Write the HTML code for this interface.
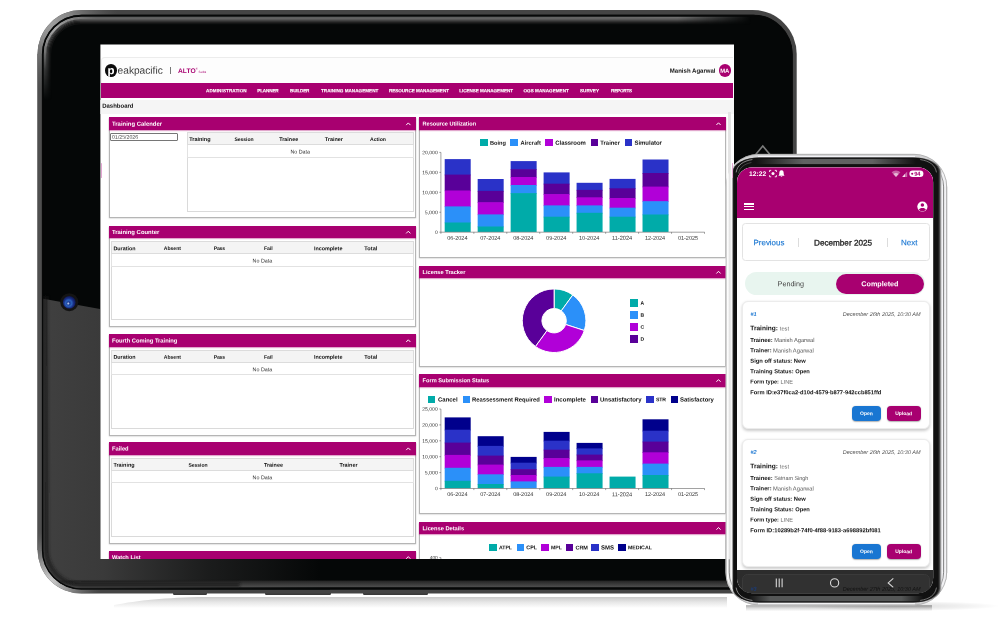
<!DOCTYPE html>
<html><head><meta charset="utf-8"><title>ALTO Suite</title>
<style>
html,body{margin:0;padding:0;background:#fff;}
body{width:1005px;height:621px;overflow:hidden;position:relative;font-family:"Liberation Sans",sans-serif;}
.t{position:absolute;left:0;top:0;white-space:nowrap;display:block;transform-origin:0 0;}
.r{position:absolute;box-sizing:border-box;}
svg{position:absolute;left:0;top:0;overflow:visible;}
svg text{font-family:"Liberation Sans",sans-serif;}
</style></head><body>
<svg width="1005" height="621" viewBox="0 0 1005 621">
<defs>
<linearGradient id="tglare" gradientUnits="userSpaceOnUse" x1="42" y1="0" x2="320" y2="0">
<stop offset="0" stop-color="#404040"/><stop offset="0.22" stop-color="#3a3a3a"/><stop offset="0.6" stop-color="#1b1c1c"/><stop offset="1" stop-color="#050707"/></linearGradient>
<radialGradient id="trim" gradientUnits="userSpaceOnUse" cx="50" cy="23" r="68">
<stop offset="0" stop-color="#a0a0a0"/><stop offset="0.3" stop-color="#8a8a8a" stop-opacity="0.95"/><stop offset="0.7" stop-color="#707070" stop-opacity="0.45"/><stop offset="1" stop-color="#606060" stop-opacity="0"/></radialGradient>
<radialGradient id="trimb" gradientUnits="userSpaceOnUse" cx="50" cy="581" r="52"><stop offset="0" stop-color="#cfcfcf"/><stop offset="0.35" stop-color="#a8a8a8" stop-opacity="0.85"/><stop offset="0.75" stop-color="#808080" stop-opacity="0.35"/><stop offset="1" stop-color="#606060" stop-opacity="0"/></radialGradient>
<radialGradient id="tglow" gradientUnits="userSpaceOnUse" cx="66" cy="36" r="135">
<stop offset="0" stop-color="#909090" stop-opacity="0.95"/><stop offset="0.35" stop-color="#7a7a7a" stop-opacity="0.7"/><stop offset="0.7" stop-color="#666" stop-opacity="0.3"/><stop offset="1" stop-color="#555" stop-opacity="0"/></radialGradient>
<linearGradient id="tglow2" gradientUnits="userSpaceOnUse" x1="120" y1="0" x2="745" y2="0"><stop offset="0" stop-color="#777" stop-opacity="0.0"/><stop offset="0.12" stop-color="#707070" stop-opacity="0.8"/><stop offset="0.8" stop-color="#606060" stop-opacity="0.7"/><stop offset="1" stop-color="#555" stop-opacity="0"/></linearGradient>
<filter id="blur2" filterUnits="userSpaceOnUse" x="100" y="8" width="680" height="24"><feGaussianBlur stdDeviation="0.9"/></filter>
<linearGradient id="mg1" gradientUnits="userSpaceOnUse" x1="0" y1="0" x2="770" y2="0"><stop offset="0" stop-color="#fff"/><stop offset="0.88" stop-color="#fff"/><stop offset="0.975" stop-color="#000"/></linearGradient>
<linearGradient id="mg2" gradientUnits="userSpaceOnUse" x1="0" y1="0" x2="0" y2="200"><stop offset="0" stop-color="#fff"/><stop offset="0.2" stop-color="#fff"/><stop offset="0.5" stop-color="#000"/></linearGradient>
<mask id="mk1" maskUnits="userSpaceOnUse" x="0" y="0" width="1005" height="621"><rect x="0" y="0" width="1005" height="621" fill="url(#mg1)"/></mask>
<mask id="mk2" maskUnits="userSpaceOnUse" x="0" y="0" width="1005" height="621"><rect x="0" y="0" width="1005" height="621" fill="url(#mg2)"/></mask>
<radialGradient id="cglow" gradientUnits="userSpaceOnUse" cx="56" cy="29" r="42"><stop offset="0" stop-color="#b0b0b0" stop-opacity="0.9"/><stop offset="0.5" stop-color="#999" stop-opacity="0.55"/><stop offset="1" stop-color="#888" stop-opacity="0"/></radialGradient>
<filter id="blur3" filterUnits="userSpaceOnUse" x="30" y="5" width="100" height="90"><feGaussianBlur stdDeviation="0.7"/></filter>
<filter id="blur4" filterUnits="userSpaceOnUse" x="30" y="280" width="260" height="330"><feGaussianBlur stdDeviation="1.6"/></filter>
<filter id="blur1" x="-10%" y="-10%" width="120%" height="120%"><feGaussianBlur stdDeviation="1.3"/></filter>
<linearGradient id="tbot" gradientUnits="userSpaceOnUse" x1="0" y1="580" x2="0" y2="587.2">
<stop offset="0" stop-color="#1c1c1c" stop-opacity="0"/><stop offset="0.15" stop-color="#262626" stop-opacity="1"/><stop offset="1" stop-color="#4e4e4e"/></linearGradient>
<radialGradient id="cam" cx="0.45" cy="0.58" r="0.62"><stop offset="0" stop-color="#7f9fd8"/><stop offset="0.14" stop-color="#1c3690"/><stop offset="0.4" stop-color="#2a62ba"/><stop offset="0.62" stop-color="#1a2f88"/><stop offset="1" stop-color="#090f3c"/></radialGradient>
<radialGradient id="shadow" cx="0.5" cy="0.5" r="0.5"><stop offset="0" stop-color="#000" stop-opacity="0.28"/><stop offset="0.7" stop-color="#000" stop-opacity="0.10"/><stop offset="1" stop-color="#000" stop-opacity="0"/></radialGradient>
<linearGradient id="ptop" gradientUnits="userSpaceOnUse" x1="733" y1="0" x2="940" y2="0">
<stop offset="0" stop-color="#111"/><stop offset="0.12" stop-color="#1a1a1a"/><stop offset="0.5" stop-color="#7a7a7a"/><stop offset="0.88" stop-color="#1a1a1a"/><stop offset="1" stop-color="#111"/></linearGradient>
<linearGradient id="tshadow" gradientUnits="userSpaceOnUse" x1="0" y1="597" x2="0" y2="608">
<stop offset="0" stop-color="#c9c9c9"/><stop offset="0.45" stop-color="#e6e6e6"/><stop offset="1" stop-color="#fff"/></linearGradient>
<linearGradient id="pshadow" gradientUnits="userSpaceOnUse" x1="0" y1="605.2" x2="0" y2="611.2">
<stop offset="0" stop-color="#a8a8a8"/><stop offset="0.5" stop-color="#dcdcdc"/><stop offset="1" stop-color="#fff"/></linearGradient>
<clipPath id="tclip"><rect x="42" y="14.8" width="750.6" height="574.6" rx="39.6" ry="39.6"/></clipPath>
</defs>
<!-- shadows -->
<path d="M114 605 C138 600.5 165 597.4 205 597 L727 597 L727 608 L114 608 Z" fill="url(#tshadow)"/>
<rect x="746" y="605.2" width="186" height="6" fill="url(#pshadow)"/>
<ellipse cx="900" cy="606" rx="100" ry="5" fill="url(#shadow)" opacity="0.5"/>
<!-- tablet feet -->
<rect x="173" y="592" width="34" height="3" rx="1.2" fill="#3a3a3a"/>
<rect x="265" y="592" width="66" height="3" rx="1.2" fill="#3a3a3a"/>
<rect x="363" y="592" width="65" height="3" rx="1.2" fill="#3a3a3a"/>
<!-- tablet -->
<rect x="37.5" y="10" width="759.2" height="583.6" rx="44" ry="44" fill="#444"/>
<rect x="37.5" y="54" width="4.6" height="496" fill="#4f4f4f"/>
<rect x="37.5" y="10" width="200" height="300" rx="44" ry="44" fill="url(#trim)"/>
<rect x="37.5" y="393.6" width="200" height="200" rx="44" ry="44" fill="url(#trimb)"/>
<rect x="42" y="14.8" width="750.6" height="574.6" rx="39.6" ry="39.6" fill="#050707"/>
<g mask="url(#mk1)"><g mask="url(#mk2)">
<path d="M44.30 200 L44.30 54.00 A36.70 36.70 0 0 1 81.50 17.30 L760 17.30" fill="none" stroke="#787878" stroke-width="1.15"/>
<path d="M45.35 200 L45.35 54.00 A35.65 35.65 0 0 1 81.50 18.35 L760 18.35" fill="none" stroke="#676767" stroke-width="1.15"/>
<path d="M46.40 200 L46.40 54.00 A34.60 34.60 0 0 1 81.50 19.40 L760 19.40" fill="none" stroke="#555555" stroke-width="1.15"/>
<path d="M47.45 200 L47.45 54.00 A33.55 33.55 0 0 1 81.50 20.45 L760 20.45" fill="none" stroke="#434343" stroke-width="1.15"/>
<path d="M48.50 200 L48.50 54.00 A32.50 32.50 0 0 1 81.50 21.50 L760 21.50" fill="none" stroke="#313131" stroke-width="1.15"/>
<path d="M49.55 200 L49.55 54.00 A31.45 31.45 0 0 1 81.50 22.55 L760 22.55" fill="none" stroke="#202020" stroke-width="1.15"/>
<path d="M50.60 200 L50.60 54.00 A30.40 30.40 0 0 1 81.50 23.60 L760 23.60" fill="none" stroke="#131414" stroke-width="1.15"/>
</g></g>
<path d="M45 76 L45 54 A36 36 0 0 1 81 18 L104 18" fill="none" stroke="url(#cglow)" stroke-width="2.2" filter="url(#blur3)"/>
<g clip-path="url(#tclip)">
<path d="M43.3 298.8 L100 309 L100 559 L330 559 L330 590 L43.3 590 Z" fill="url(#tglare)"/>
<rect x="42" y="580" width="751" height="7.2" fill="url(#tbot)"/>
<path d="M45.5 296 L46.5 549.8 A35 35 0 0 0 81.5 584.8 L240 584.8" fill="none" stroke="#161616" stroke-width="4" opacity="0.75" filter="url(#blur4)"/>
</g>
<rect x="42.5" y="15.3" width="749.6" height="573.6" rx="39.1" ry="39.1" fill="none" stroke="#070808" stroke-width="1.3"/>
<!-- camera -->
<circle cx="69.3" cy="302.2" r="9" fill="#141414"/>
<circle cx="69.3" cy="302.2" r="6.3" fill="url(#cam)"/>
<circle cx="68.2" cy="303.6" r="1.1" fill="#cfe0f8" opacity="0.7"/>
<!-- home icon -->
<path d="M754 156.5 L762.8 146 L771.6 156.5" fill="none" stroke="#7b7b7b" stroke-width="1.6"/>
</svg>
<div style="position:absolute;left:0;top:0;width:1005px;height:621px;clip-path:inset(44.4px 270.5px 61.9px 100.4px);"><div class="r" style="left:100.40px;top:44.40px;width:634.10px;height:514.70px;background:#fff;"></div><div class="r" style="left:101.00px;top:57.20px;width:631.50px;height:26.40px;background:#fdfdfd;border-radius:4px 0 0 0;border-top:1px solid #ececec;border-left:0.6px solid #f0f0f0;"></div><div class="r" style="left:104.70px;top:64.00px;width:12.00px;height:12.70px;background:#0b0b0b;border-radius:50%;"></div><span class="t" style="transform:translate(107.60px,64.16px) rotate(0.03deg);font-size:11.5px;line-height:12px;color:#fff;font-weight:700;">p</span><span class="t" style="transform:translate(117.60px,64.80px) rotate(0.03deg);font-size:10.164px;line-height:11px;color:#3a3a3a;letter-spacing:0.000px;">eakpacific</span><div class="r" style="left:169.70px;top:67.20px;width:0.80px;height:7.00px;background:#777;"></div><span class="t" style="transform:translate(178.00px,67.10px) rotate(0.03deg);font-size:6.693px;line-height:7px;color:#a80070;letter-spacing:0.000px;font-weight:700;">ALTO</span><span class="t" style="transform:translate(195.80px,67.49px) rotate(0.03deg);font-size:2.6px;line-height:3px;color:#a80070;">®</span><span class="t" style="transform:translate(198.60px,69.89px) rotate(0.03deg);font-size:3.172px;line-height:4px;color:#a80070;letter-spacing:0.134px;">Suite</span><span class="t" style="transform:translate(669.80px,67.68px) rotate(0.03deg);font-size:6.046px;line-height:6px;color:#111;letter-spacing:-0.000px;font-weight:700;">Manish Agarwal</span><div class="r" style="left:718.50px;top:64.30px;width:12.50px;height:12.50px;background:#a80070;border-radius:50%;"></div><span class="t" style="transform:translate(720.29px,67.73px) rotate(0.03deg);font-size:5.9px;line-height:6px;color:#fff;letter-spacing:-0.250px;font-weight:700;">MA</span><div class="r" style="left:101.00px;top:83.40px;width:631.50px;height:14.50px;background:#a80070;"></div><span class="t" style="transform:translate(206.00px,88.18px) rotate(0.03deg);font-size:4.6px;line-height:5px;color:#fff;letter-spacing:0.091px;font-weight:700;-webkit-text-stroke:0.12px #fff;">ADMINISTRATION</span><span class="t" style="transform:translate(257.20px,88.18px) rotate(0.03deg);font-size:4.6px;line-height:5px;color:#fff;letter-spacing:-0.119px;font-weight:700;-webkit-text-stroke:0.12px #fff;">PLANNER</span><span class="t" style="transform:translate(290.00px,88.18px) rotate(0.03deg);font-size:4.6px;line-height:5px;color:#fff;letter-spacing:-0.178px;font-weight:700;-webkit-text-stroke:0.12px #fff;">BUILDER</span><span class="t" style="transform:translate(321.00px,88.18px) rotate(0.03deg);font-size:4.6px;line-height:5px;color:#fff;letter-spacing:0.022px;font-weight:700;-webkit-text-stroke:0.12px #fff;">TRAINING MANAGEMENT</span><span class="t" style="transform:translate(389.00px,88.18px) rotate(0.03deg);font-size:4.6px;line-height:5px;color:#fff;letter-spacing:-0.043px;font-weight:700;-webkit-text-stroke:0.12px #fff;">RESOURCE MANAGEMENT</span><span class="t" style="transform:translate(459.30px,88.18px) rotate(0.03deg);font-size:4.6px;line-height:5px;color:#fff;letter-spacing:-0.055px;font-weight:700;-webkit-text-stroke:0.12px #fff;">LICENSE MANAGEMENT</span><span class="t" style="transform:translate(523.40px,88.18px) rotate(0.03deg);font-size:4.6px;line-height:5px;color:#fff;letter-spacing:0.044px;font-weight:700;-webkit-text-stroke:0.12px #fff;">OGS MANAGEMENT</span><span class="t" style="transform:translate(580.00px,88.18px) rotate(0.03deg);font-size:4.6px;line-height:5px;color:#fff;letter-spacing:0.028px;font-weight:700;-webkit-text-stroke:0.12px #fff;">SURVEY</span><span class="t" style="transform:translate(611.00px,88.18px) rotate(0.03deg);font-size:4.6px;line-height:5px;color:#fff;letter-spacing:-0.177px;font-weight:700;-webkit-text-stroke:0.12px #fff;">REPORTS</span><div class="r" style="left:100.40px;top:99.80px;width:634.10px;height:14.30px;background:#f5f5f5;"></div><span class="t" style="transform:translate(102.20px,102.66px) rotate(0.03deg);font-size:5.992px;line-height:6px;color:#111;letter-spacing:0.000px;font-weight:700;">Dashboard</span><div class="r" style="left:108.60px;top:117.30px;width:307.70px;height:101.10px;background:#fff;border:0.8px solid #b5b5b5;box-shadow:0 0.5px 1.5px rgba(0,0,0,.25);"></div><div class="r" style="left:108.60px;top:117.30px;width:307.70px;height:12.60px;background:#a80070;box-shadow:0 1px 1px rgba(169,0,109,.35);"></div><span class="t" style="transform:translate(112.00px,120.64px) rotate(0.03deg);font-size:5.923px;line-height:6px;color:#fff;letter-spacing:0.010px;font-weight:700;">Training Calender</span><svg width="1005" height="621"><path d="M406.20 125.10 L408.30 122.90 L410.40 125.10" fill="none" stroke="#fff" stroke-width="0.95"/></svg><div class="r" style="left:110.40px;top:133.30px;width:67.40px;height:7.40px;background:#fff;border:0.7px solid #767676;border-radius:1px;"></div><span class="t" style="transform:translate(112.10px,133.79px) rotate(0.03deg);font-size:5.215px;line-height:6px;color:#444;letter-spacing:-0.000px;">01/25/2026</span><div class="r" style="left:186.60px;top:132.30px;width:227.20px;height:79.90px;background:#fff;border:0.7px solid #dadada;"></div><div class="r" style="left:186.60px;top:132.30px;width:227.20px;height:13.00px;background:#f4f4f4;border:0.7px solid #dcdcdc;"></div><div class="r" style="left:186.60px;top:145.30px;width:227.20px;height:12.40px;background:#fff;border:0.7px solid #e2e2e2;border-top:none;"></div><span class="t" style="transform:translate(189.20px,136.09px) rotate(0.03deg);font-size:5.502px;line-height:6px;color:#111;letter-spacing:0.000px;font-weight:700;">Training</span><span class="t" style="transform:translate(234.40px,135.95px) rotate(0.03deg);font-size:5.088px;line-height:6px;color:#111;letter-spacing:-0.045px;font-weight:700;">Session</span><span class="t" style="transform:translate(279.30px,136.06px) rotate(0.03deg);font-size:5.397px;line-height:6px;color:#111;letter-spacing:-0.000px;font-weight:700;">Trainee</span><span class="t" style="transform:translate(324.80px,136.08px) rotate(0.03deg);font-size:5.457px;line-height:6px;color:#111;letter-spacing:0.000px;font-weight:700;">Trainer</span><span class="t" style="transform:translate(370.00px,135.97px) rotate(0.03deg);font-size:5.143px;line-height:6px;color:#111;letter-spacing:0.000px;font-weight:700;">Action</span><span class="t" style="transform:translate(290.40px,148.44px) rotate(0.03deg);font-size:5.343px;line-height:6px;color:#333;letter-spacing:-0.000px;">No Data</span><div class="r" style="left:108.60px;top:225.60px;width:307.70px;height:101.50px;background:#fff;border:0.8px solid #b5b5b5;box-shadow:0 0.5px 1.5px rgba(0,0,0,.25);"></div><div class="r" style="left:108.60px;top:225.60px;width:307.70px;height:12.60px;background:#a80070;box-shadow:0 1px 1px rgba(169,0,109,.35);"></div><span class="t" style="transform:translate(112.00px,228.94px) rotate(0.03deg);font-size:5.923px;line-height:6px;color:#fff;letter-spacing:0.001px;font-weight:700;">Training Counter</span><svg width="1005" height="621"><path d="M406.20 233.40 L408.30 231.20 L410.40 233.40" fill="none" stroke="#fff" stroke-width="0.95"/></svg><div class="r" style="left:111.00px;top:241.40px;width:302.80px;height:78.80px;background:#fff;border:0.7px solid #dadada;"></div><div class="r" style="left:111.00px;top:241.40px;width:302.80px;height:13.00px;background:#f4f4f4;border:0.7px solid #dcdcdc;"></div><div class="r" style="left:111.00px;top:254.40px;width:302.80px;height:12.40px;background:#fff;border:0.7px solid #e2e2e2;border-top:none;"></div><span class="t" style="transform:translate(113.40px,245.16px) rotate(0.03deg);font-size:5.4px;line-height:6px;color:#111;letter-spacing:0.000px;font-weight:700;">Duration</span><span class="t" style="transform:translate(163.70px,245.06px) rotate(0.03deg);font-size:5.104px;line-height:6px;color:#111;letter-spacing:0.000px;font-weight:700;">Absent</span><span class="t" style="transform:translate(213.70px,245.05px) rotate(0.03deg);font-size:5.088px;line-height:6px;color:#111;letter-spacing:-0.146px;font-weight:700;">Pass</span><span class="t" style="transform:translate(264.00px,245.05px) rotate(0.03deg);font-size:5.088px;line-height:6px;color:#111;letter-spacing:-0.041px;font-weight:700;">Fail</span><span class="t" style="transform:translate(314.00px,245.16px) rotate(0.03deg);font-size:5.399px;line-height:6px;color:#111;letter-spacing:-0.000px;font-weight:700;">Incomplete</span><span class="t" style="transform:translate(364.30px,245.21px) rotate(0.03deg);font-size:5.565px;line-height:6px;color:#111;letter-spacing:0.044px;font-weight:700;">Total</span><span class="t" style="transform:translate(252.60px,257.54px) rotate(0.03deg);font-size:5.343px;line-height:6px;color:#333;letter-spacing:-0.000px;">No Data</span><div class="r" style="left:108.60px;top:334.20px;width:307.70px;height:101.50px;background:#fff;border:0.8px solid #b5b5b5;box-shadow:0 0.5px 1.5px rgba(0,0,0,.25);"></div><div class="r" style="left:108.60px;top:334.20px;width:307.70px;height:12.60px;background:#a80070;box-shadow:0 1px 1px rgba(169,0,109,.35);"></div><span class="t" style="transform:translate(112.00px,337.49px) rotate(0.03deg);font-size:5.789px;line-height:6px;color:#fff;letter-spacing:-0.000px;font-weight:700;">Fourth Coming Training</span><svg width="1005" height="621"><path d="M406.20 342.00 L408.30 339.80 L410.40 342.00" fill="none" stroke="#fff" stroke-width="0.95"/></svg><div class="r" style="left:111.00px;top:350.00px;width:302.80px;height:78.80px;background:#fff;border:0.7px solid #dadada;"></div><div class="r" style="left:111.00px;top:350.00px;width:302.80px;height:13.00px;background:#f4f4f4;border:0.7px solid #dcdcdc;"></div><div class="r" style="left:111.00px;top:363.00px;width:302.80px;height:12.40px;background:#fff;border:0.7px solid #e2e2e2;border-top:none;"></div><span class="t" style="transform:translate(113.40px,353.76px) rotate(0.03deg);font-size:5.4px;line-height:6px;color:#111;letter-spacing:0.000px;font-weight:700;">Duration</span><span class="t" style="transform:translate(163.70px,353.66px) rotate(0.03deg);font-size:5.104px;line-height:6px;color:#111;letter-spacing:0.000px;font-weight:700;">Absent</span><span class="t" style="transform:translate(213.70px,353.65px) rotate(0.03deg);font-size:5.088px;line-height:6px;color:#111;letter-spacing:-0.146px;font-weight:700;">Pass</span><span class="t" style="transform:translate(264.00px,353.65px) rotate(0.03deg);font-size:5.088px;line-height:6px;color:#111;letter-spacing:-0.041px;font-weight:700;">Fail</span><span class="t" style="transform:translate(314.00px,353.76px) rotate(0.03deg);font-size:5.399px;line-height:6px;color:#111;letter-spacing:-0.000px;font-weight:700;">Incomplete</span><span class="t" style="transform:translate(364.30px,353.81px) rotate(0.03deg);font-size:5.565px;line-height:6px;color:#111;letter-spacing:0.044px;font-weight:700;">Total</span><span class="t" style="transform:translate(252.60px,366.14px) rotate(0.03deg);font-size:5.343px;line-height:6px;color:#333;letter-spacing:-0.000px;">No Data</span><div class="r" style="left:108.60px;top:442.30px;width:307.70px;height:101.70px;background:#fff;border:0.8px solid #b5b5b5;box-shadow:0 0.5px 1.5px rgba(0,0,0,.25);"></div><div class="r" style="left:108.60px;top:442.30px;width:307.70px;height:12.60px;background:#a80070;box-shadow:0 1px 1px rgba(169,0,109,.35);"></div><span class="t" style="transform:translate(112.00px,445.58px) rotate(0.03deg);font-size:5.745px;line-height:6px;color:#fff;letter-spacing:-0.000px;font-weight:700;">Failed</span><svg width="1005" height="621"><path d="M406.20 450.10 L408.30 447.90 L410.40 450.10" fill="none" stroke="#fff" stroke-width="0.95"/></svg><div class="r" style="left:111.00px;top:458.00px;width:302.80px;height:79.30px;background:#fff;border:0.7px solid #dadada;"></div><div class="r" style="left:111.00px;top:458.00px;width:302.80px;height:13.00px;background:#f4f4f4;border:0.7px solid #dcdcdc;"></div><div class="r" style="left:111.00px;top:471.00px;width:302.80px;height:12.40px;background:#fff;border:0.7px solid #e2e2e2;border-top:none;"></div><span class="t" style="transform:translate(113.40px,461.78px) rotate(0.03deg);font-size:5.451px;line-height:6px;color:#111;letter-spacing:-0.000px;font-weight:700;">Training</span><span class="t" style="transform:translate(188.50px,461.65px) rotate(0.03deg);font-size:5.088px;line-height:6px;color:#111;letter-spacing:-0.059px;font-weight:700;">Session</span><span class="t" style="transform:translate(264.00px,461.77px) rotate(0.03deg);font-size:5.425px;line-height:6px;color:#111;letter-spacing:0.000px;font-weight:700;">Trainee</span><span class="t" style="transform:translate(339.50px,461.77px) rotate(0.03deg);font-size:5.427px;line-height:6px;color:#111;letter-spacing:0.000px;font-weight:700;">Trainer</span><span class="t" style="transform:translate(252.60px,474.14px) rotate(0.03deg);font-size:5.343px;line-height:6px;color:#333;letter-spacing:-0.000px;">No Data</span><div class="r" style="left:108.60px;top:551.00px;width:307.70px;height:49.00px;background:#fff;border:0.8px solid #b5b5b5;box-shadow:0 0.5px 1.5px rgba(0,0,0,.25);"></div><div class="r" style="left:108.60px;top:551.00px;width:307.70px;height:12.60px;background:#a80070;box-shadow:0 1px 1px rgba(169,0,109,.35);"></div><span class="t" style="transform:translate(112.00px,554.26px) rotate(0.03deg);font-size:5.699px;line-height:6px;color:#fff;letter-spacing:-0.000px;font-weight:700;">Watch List</span><svg width="1005" height="621"><path d="M406.20 558.80 L408.30 556.60 L410.40 558.80" fill="none" stroke="#fff" stroke-width="0.95"/></svg><div class="r" style="left:419.20px;top:117.20px;width:307.30px;height:141.00px;background:#fff;border:0.8px solid #b5b5b5;box-shadow:0 0.5px 1.5px rgba(0,0,0,.25);"></div><div class="r" style="left:419.20px;top:117.20px;width:307.30px;height:12.60px;background:#a80070;box-shadow:0 1px 1px rgba(169,0,109,.35);"></div><span class="t" style="transform:translate(422.60px,120.42px) rotate(0.03deg);font-size:5.577px;line-height:6px;color:#fff;letter-spacing:-0.001px;font-weight:700;">Resource Utilization</span><svg width="1005" height="621"><path d="M716.40 125.00 L718.50 122.80 L720.60 125.00" fill="none" stroke="#fff" stroke-width="0.95"/></svg><div class="r" style="left:480.30px;top:139.10px;width:7.50px;height:7.20px;background:#00aba9;"></div><span class="t" style="transform:translate(490.00px,139.74px) rotate(0.03deg);font-size:5.649px;line-height:6px;color:#111;letter-spacing:-0.000px;font-weight:700;">Boing</span><div class="r" style="left:510.40px;top:139.10px;width:7.50px;height:7.20px;background:#2b90f9;"></div><span class="t" style="transform:translate(520.50px,139.78px) rotate(0.03deg);font-size:5.764px;line-height:6px;color:#111;letter-spacing:-0.000px;font-weight:700;">Aircraft</span><div class="r" style="left:545.30px;top:139.10px;width:7.50px;height:7.20px;background:#b100d8;"></div><span class="t" style="transform:translate(555.20px,139.85px) rotate(0.03deg);font-size:5.959px;line-height:6px;color:#111;letter-spacing:0.000px;font-weight:700;">Classroom</span><div class="r" style="left:590.60px;top:139.10px;width:7.50px;height:7.20px;background:#590099;"></div><span class="t" style="transform:translate(600.30px,139.83px) rotate(0.03deg);font-size:5.907px;line-height:6px;color:#111;letter-spacing:0.000px;font-weight:700;">Trainer</span><div class="r" style="left:624.60px;top:139.10px;width:7.50px;height:7.20px;background:#2a32c8;"></div><span class="t" style="transform:translate(634.40px,139.86px) rotate(0.03deg);font-size:5.985px;line-height:6px;color:#111;letter-spacing:-0.000px;font-weight:700;">Simulator</span><svg width="1005" height="621"><rect x="444.70" y="159.10" width="26" height="16.20" fill="#2a32c8"/><rect x="444.70" y="174.60" width="26" height="16.60" fill="#590099"/><rect x="444.70" y="190.50" width="26" height="16.60" fill="#b100d8"/><rect x="444.70" y="206.40" width="26" height="16.80" fill="#2b90f9"/><rect x="444.70" y="222.50" width="26" height="9.40" fill="#00aba9"/><rect x="477.67" y="179.00" width="26" height="12.60" fill="#2a32c8"/><rect x="477.67" y="190.90" width="26" height="12.00" fill="#590099"/><rect x="477.67" y="202.20" width="26" height="12.90" fill="#b100d8"/><rect x="477.67" y="214.40" width="26" height="12.80" fill="#2b90f9"/><rect x="477.67" y="226.50" width="26" height="5.40" fill="#00aba9"/><rect x="510.64" y="161.10" width="26" height="8.80" fill="#2a32c8"/><rect x="510.64" y="169.20" width="26" height="8.50" fill="#590099"/><rect x="510.64" y="177.00" width="26" height="8.70" fill="#b100d8"/><rect x="510.64" y="185.00" width="26" height="8.80" fill="#2b90f9"/><rect x="510.64" y="193.10" width="26" height="38.80" fill="#00aba9"/><rect x="543.61" y="172.40" width="26" height="12.00" fill="#2a32c8"/><rect x="543.61" y="183.70" width="26" height="11.10" fill="#590099"/><rect x="543.61" y="194.10" width="26" height="12.00" fill="#b100d8"/><rect x="543.61" y="205.40" width="26" height="12.00" fill="#2b90f9"/><rect x="543.61" y="216.70" width="26" height="15.20" fill="#00aba9"/><rect x="576.58" y="182.80" width="26" height="7.80" fill="#2a32c8"/><rect x="576.58" y="189.90" width="26" height="8.10" fill="#590099"/><rect x="576.58" y="197.30" width="26" height="8.80" fill="#b100d8"/><rect x="576.58" y="205.40" width="26" height="8.10" fill="#2b90f9"/><rect x="576.58" y="212.80" width="26" height="19.10" fill="#00aba9"/><rect x="609.55" y="178.90" width="26" height="10.10" fill="#2a32c8"/><rect x="609.55" y="188.30" width="26" height="10.40" fill="#590099"/><rect x="609.55" y="198.00" width="26" height="10.40" fill="#b100d8"/><rect x="609.55" y="207.70" width="26" height="9.70" fill="#2b90f9"/><rect x="609.55" y="216.70" width="26" height="15.20" fill="#00aba9"/><rect x="642.52" y="159.50" width="26" height="14.20" fill="#2a32c8"/><rect x="642.52" y="173.00" width="26" height="14.30" fill="#590099"/><rect x="642.52" y="186.60" width="26" height="15.30" fill="#b100d8"/><rect x="642.52" y="201.20" width="26" height="14.00" fill="#2b90f9"/><rect x="642.52" y="214.50" width="26" height="17.40" fill="#00aba9"/><path d="M440.9 152.4 L440.9 232.2 L704.6 232.2" fill="none" stroke="#444" stroke-width="0.5"/><path d="M439.29999999999995 232.20 L440.9 232.20" stroke="#444" stroke-width="0.5"/><path d="M439.29999999999995 212.25 L440.9 212.25" stroke="#444" stroke-width="0.5"/><path d="M439.29999999999995 192.30 L440.9 192.30" stroke="#444" stroke-width="0.5"/><path d="M439.29999999999995 172.35 L440.9 172.35" stroke="#444" stroke-width="0.5"/><path d="M439.29999999999995 152.40 L440.9 152.40" stroke="#444" stroke-width="0.5"/><path d="M440.90 232.2 L440.90 233.79999999999998" stroke="#444" stroke-width="0.5"/><path d="M473.85 232.2 L473.85 233.79999999999998" stroke="#444" stroke-width="0.5"/><path d="M506.80 232.2 L506.80 233.79999999999998" stroke="#444" stroke-width="0.5"/><path d="M539.75 232.2 L539.75 233.79999999999998" stroke="#444" stroke-width="0.5"/><path d="M572.70 232.2 L572.70 233.79999999999998" stroke="#444" stroke-width="0.5"/><path d="M605.65 232.2 L605.65 233.79999999999998" stroke="#444" stroke-width="0.5"/><path d="M638.60 232.2 L638.60 233.79999999999998" stroke="#444" stroke-width="0.5"/><path d="M671.55 232.2 L671.55 233.79999999999998" stroke="#444" stroke-width="0.5"/><path d="M704.50 232.2 L704.50 233.79999999999998" stroke="#444" stroke-width="0.5"/></svg><span class="t" style="transform:translate(435.00px,229.03px) rotate(0.03deg);font-size:5.034px;line-height:6px;color:#333;letter-spacing:0.000px;">0</span><span class="t" style="transform:translate(424.80px,209.14px) rotate(0.03deg);font-size:5.195px;line-height:6px;color:#333;letter-spacing:-0.000px;">5,000</span><span class="t" style="transform:translate(422.30px,189.14px) rotate(0.03deg);font-size:5.068px;line-height:6px;color:#333;letter-spacing:-0.000px;">10,000</span><span class="t" style="transform:translate(422.30px,169.19px) rotate(0.03deg);font-size:5.068px;line-height:6px;color:#333;letter-spacing:-0.000px;">15,000</span><span class="t" style="transform:translate(422.30px,149.24px) rotate(0.03deg);font-size:5.068px;line-height:6px;color:#333;letter-spacing:-0.000px;">20,000</span><span class="t" style="transform:translate(447.23px,234.80px) rotate(0.03deg);font-size:5.531px;line-height:6px;color:#333;letter-spacing:0.000px;">06-2024</span><span class="t" style="transform:translate(480.18px,234.80px) rotate(0.03deg);font-size:5.531px;line-height:6px;color:#333;letter-spacing:0.000px;">07-2024</span><span class="t" style="transform:translate(513.13px,234.80px) rotate(0.03deg);font-size:5.531px;line-height:6px;color:#333;letter-spacing:0.000px;">08-2024</span><span class="t" style="transform:translate(546.08px,234.80px) rotate(0.03deg);font-size:5.531px;line-height:6px;color:#333;letter-spacing:0.000px;">09-2024</span><span class="t" style="transform:translate(579.03px,234.80px) rotate(0.03deg);font-size:5.531px;line-height:6px;color:#333;letter-spacing:0.000px;">10-2024</span><span class="t" style="transform:translate(611.98px,234.84px) rotate(0.03deg);font-size:5.645px;line-height:6px;color:#333;letter-spacing:0.000px;">11-2024</span><span class="t" style="transform:translate(644.93px,234.80px) rotate(0.03deg);font-size:5.531px;line-height:6px;color:#333;letter-spacing:0.000px;">12-2024</span><span class="t" style="transform:translate(677.88px,234.80px) rotate(0.03deg);font-size:5.531px;line-height:6px;color:#333;letter-spacing:0.000px;">01-2025</span><div class="r" style="left:419.20px;top:265.70px;width:307.30px;height:101.00px;background:#fff;border:0.8px solid #b5b5b5;box-shadow:0 0.5px 1.5px rgba(0,0,0,.25);"></div><div class="r" style="left:419.20px;top:265.70px;width:307.30px;height:12.60px;background:#a80070;box-shadow:0 1px 1px rgba(169,0,109,.35);"></div><span class="t" style="transform:translate(422.60px,268.95px) rotate(0.03deg);font-size:5.674px;line-height:6px;color:#fff;letter-spacing:0.000px;font-weight:700;">License Tracker</span><svg width="1005" height="621"><path d="M716.40 273.50 L718.50 271.30 L720.60 273.50" fill="none" stroke="#fff" stroke-width="0.95"/></svg><svg width="1005" height="621"><path d="M554.10 288.90 A31.8 31.8 0 0 1 572.79 294.97 L561.27 310.83 A12.2 12.2 0 0 0 554.10 308.50 Z" fill="#00aba9" stroke="#fff" stroke-width="1"/><path d="M572.79 294.97 A31.8 31.8 0 0 1 584.34 330.53 L565.70 324.47 A12.2 12.2 0 0 0 561.27 310.83 Z" fill="#2b90f9" stroke="#fff" stroke-width="1"/><path d="M584.34 330.53 A31.8 31.8 0 0 1 535.41 346.43 L546.93 330.57 A12.2 12.2 0 0 0 565.70 324.47 Z" fill="#b100d8" stroke="#fff" stroke-width="1"/><path d="M535.41 346.43 A31.8 31.8 0 0 1 554.10 288.90 L554.10 308.50 A12.2 12.2 0 0 0 546.93 330.57 Z" fill="#590099" stroke="#fff" stroke-width="1"/></svg><div class="r" style="left:630.00px;top:299.00px;width:8.20px;height:7.80px;background:#00aba9;"></div><span class="t" style="transform:translate(640.40px,299.72px) rotate(0.03deg);font-size:5.0px;line-height:6px;color:#111;font-weight:700;">A</span><div class="r" style="left:630.00px;top:311.00px;width:8.20px;height:7.80px;background:#2b90f9;"></div><span class="t" style="transform:translate(640.40px,311.72px) rotate(0.03deg);font-size:5.0px;line-height:6px;color:#111;font-weight:700;">B</span><div class="r" style="left:630.00px;top:323.00px;width:8.20px;height:7.80px;background:#b100d8;"></div><span class="t" style="transform:translate(640.40px,323.72px) rotate(0.03deg);font-size:5.0px;line-height:6px;color:#111;font-weight:700;">C</span><div class="r" style="left:630.00px;top:335.00px;width:8.20px;height:7.80px;background:#590099;"></div><span class="t" style="transform:translate(640.40px,335.72px) rotate(0.03deg);font-size:5.0px;line-height:6px;color:#111;font-weight:700;">D</span><div class="r" style="left:419.20px;top:374.00px;width:307.30px;height:140.40px;background:#fff;border:0.8px solid #b5b5b5;box-shadow:0 0.5px 1.5px rgba(0,0,0,.25);"></div><div class="r" style="left:419.20px;top:374.00px;width:307.30px;height:12.60px;background:#a80070;box-shadow:0 1px 1px rgba(169,0,109,.35);"></div><span class="t" style="transform:translate(422.60px,377.25px) rotate(0.03deg);font-size:5.671px;line-height:6px;color:#fff;letter-spacing:-0.000px;font-weight:700;">Form Submission Status</span><svg width="1005" height="621"><path d="M716.40 381.80 L718.50 379.60 L720.60 381.80" fill="none" stroke="#fff" stroke-width="0.95"/></svg><div class="r" style="left:427.90px;top:395.70px;width:7.50px;height:7.20px;background:#00aba9;"></div><span class="t" style="transform:translate(438.00px,396.46px) rotate(0.03deg);font-size:5.977px;line-height:6px;color:#111;letter-spacing:-0.000px;font-weight:700;">Cancel</span><div class="r" style="left:462.50px;top:395.70px;width:7.50px;height:7.20px;background:#2b90f9;"></div><span class="t" style="transform:translate(472.00px,396.41px) rotate(0.03deg);font-size:5.854px;line-height:6px;color:#111;letter-spacing:-0.000px;font-weight:700;">Reassessment Required</span><div class="r" style="left:544.40px;top:395.70px;width:7.50px;height:7.20px;background:#b100d8;"></div><span class="t" style="transform:translate(554.00px,396.48px) rotate(0.03deg);font-size:6.038px;line-height:6px;color:#111;letter-spacing:0.013px;font-weight:700;">Incomplete</span><div class="r" style="left:590.60px;top:395.70px;width:7.50px;height:7.20px;background:#590099;"></div><span class="t" style="transform:translate(600.00px,396.46px) rotate(0.03deg);font-size:5.974px;line-height:6px;color:#111;letter-spacing:-0.000px;font-weight:700;">Unsatisfactory</span><div class="r" style="left:646.20px;top:395.70px;width:7.50px;height:7.20px;background:#2a32c8;"></div><span class="t" style="transform:translate(656.00px,396.18px) rotate(0.03deg);font-size:5.175px;line-height:6px;color:#111;letter-spacing:-0.117px;font-weight:700;">STR</span><div class="r" style="left:670.50px;top:395.70px;width:7.50px;height:7.20px;background:#00008c;"></div><span class="t" style="transform:translate(680.00px,396.44px) rotate(0.03deg);font-size:5.939px;line-height:6px;color:#111;letter-spacing:0.000px;font-weight:700;">Satisfactory</span><svg width="1005" height="621"><rect x="444.70" y="417.40" width="26" height="13.00" fill="#00008c"/><rect x="444.70" y="429.70" width="26" height="13.60" fill="#2a32c8"/><rect x="444.70" y="442.60" width="26" height="13.00" fill="#590099"/><rect x="444.70" y="454.90" width="26" height="13.60" fill="#b100d8"/><rect x="444.70" y="467.80" width="26" height="13.70" fill="#2b90f9"/><rect x="444.70" y="480.80" width="26" height="7.40" fill="#00aba9"/><rect x="477.67" y="436.20" width="26" height="10.40" fill="#00008c"/><rect x="477.67" y="445.90" width="26" height="10.40" fill="#2a32c8"/><rect x="477.67" y="455.60" width="26" height="9.70" fill="#590099"/><rect x="477.67" y="464.60" width="26" height="10.40" fill="#b100d8"/><rect x="477.67" y="474.30" width="26" height="10.40" fill="#2b90f9"/><rect x="477.67" y="484.00" width="26" height="4.20" fill="#00aba9"/><rect x="510.64" y="456.90" width="26" height="6.50" fill="#00008c"/><rect x="510.64" y="462.70" width="26" height="7.10" fill="#2a32c8"/><rect x="510.64" y="469.10" width="26" height="6.60" fill="#590099"/><rect x="510.64" y="475.00" width="26" height="7.10" fill="#b100d8"/><rect x="510.64" y="481.40" width="26" height="6.80" fill="#2b90f9"/><rect x="543.61" y="431.90" width="26" height="9.50" fill="#00008c"/><rect x="543.61" y="440.70" width="26" height="9.70" fill="#2a32c8"/><rect x="543.61" y="449.70" width="26" height="9.10" fill="#590099"/><rect x="543.61" y="458.10" width="26" height="9.50" fill="#b100d8"/><rect x="543.61" y="466.90" width="26" height="10.40" fill="#2b90f9"/><rect x="543.61" y="476.60" width="26" height="11.60" fill="#00aba9"/><rect x="576.58" y="442.90" width="26" height="6.20" fill="#00008c"/><rect x="576.58" y="448.40" width="26" height="6.90" fill="#2a32c8"/><rect x="576.58" y="454.60" width="26" height="6.50" fill="#590099"/><rect x="576.58" y="460.40" width="26" height="7.20" fill="#b100d8"/><rect x="576.58" y="466.90" width="26" height="7.10" fill="#2b90f9"/><rect x="576.58" y="473.30" width="26" height="14.90" fill="#00aba9"/><rect x="609.55" y="476.60" width="26" height="11.60" fill="#00aba9"/><rect x="642.52" y="419.30" width="26" height="12.10" fill="#00008c"/><rect x="642.52" y="430.70" width="26" height="11.60" fill="#2a32c8"/><rect x="642.52" y="441.60" width="26" height="11.40" fill="#590099"/><rect x="642.52" y="452.30" width="26" height="12.00" fill="#b100d8"/><rect x="642.52" y="463.60" width="26" height="12.10" fill="#2b90f9"/><rect x="642.52" y="475.00" width="26" height="13.20" fill="#00aba9"/><path d="M440.9 409 L440.9 488.5 L704.6 488.5" fill="none" stroke="#444" stroke-width="0.5"/><path d="M439.29999999999995 488.50 L440.9 488.50" stroke="#444" stroke-width="0.5"/><path d="M439.29999999999995 472.60 L440.9 472.60" stroke="#444" stroke-width="0.5"/><path d="M439.29999999999995 456.70 L440.9 456.70" stroke="#444" stroke-width="0.5"/><path d="M439.29999999999995 440.80 L440.9 440.80" stroke="#444" stroke-width="0.5"/><path d="M439.29999999999995 424.90 L440.9 424.90" stroke="#444" stroke-width="0.5"/><path d="M439.29999999999995 409.00 L440.9 409.00" stroke="#444" stroke-width="0.5"/><path d="M440.90 488.5 L440.90 490.1" stroke="#444" stroke-width="0.5"/><path d="M473.85 488.5 L473.85 490.1" stroke="#444" stroke-width="0.5"/><path d="M506.80 488.5 L506.80 490.1" stroke="#444" stroke-width="0.5"/><path d="M539.75 488.5 L539.75 490.1" stroke="#444" stroke-width="0.5"/><path d="M572.70 488.5 L572.70 490.1" stroke="#444" stroke-width="0.5"/><path d="M605.65 488.5 L605.65 490.1" stroke="#444" stroke-width="0.5"/><path d="M638.60 488.5 L638.60 490.1" stroke="#444" stroke-width="0.5"/><path d="M671.55 488.5 L671.55 490.1" stroke="#444" stroke-width="0.5"/><path d="M704.50 488.5 L704.50 490.1" stroke="#444" stroke-width="0.5"/></svg><span class="t" style="transform:translate(435.00px,485.33px) rotate(0.03deg);font-size:5.034px;line-height:6px;color:#333;letter-spacing:0.000px;">0</span><span class="t" style="transform:translate(424.80px,469.49px) rotate(0.03deg);font-size:5.195px;line-height:6px;color:#333;letter-spacing:-0.000px;">5,000</span><span class="t" style="transform:translate(422.30px,453.54px) rotate(0.03deg);font-size:5.068px;line-height:6px;color:#333;letter-spacing:-0.000px;">10,000</span><span class="t" style="transform:translate(422.30px,437.64px) rotate(0.03deg);font-size:5.068px;line-height:6px;color:#333;letter-spacing:-0.000px;">15,000</span><span class="t" style="transform:translate(422.30px,421.74px) rotate(0.03deg);font-size:5.068px;line-height:6px;color:#333;letter-spacing:-0.000px;">20,000</span><span class="t" style="transform:translate(422.30px,405.84px) rotate(0.03deg);font-size:5.068px;line-height:6px;color:#333;letter-spacing:-0.000px;">25,000</span><span class="t" style="transform:translate(447.23px,491.10px) rotate(0.03deg);font-size:5.531px;line-height:6px;color:#333;letter-spacing:0.000px;">06-2024</span><span class="t" style="transform:translate(480.18px,491.10px) rotate(0.03deg);font-size:5.531px;line-height:6px;color:#333;letter-spacing:0.000px;">07-2024</span><span class="t" style="transform:translate(513.13px,491.10px) rotate(0.03deg);font-size:5.531px;line-height:6px;color:#333;letter-spacing:0.000px;">08-2024</span><span class="t" style="transform:translate(546.08px,491.10px) rotate(0.03deg);font-size:5.531px;line-height:6px;color:#333;letter-spacing:0.000px;">09-2024</span><span class="t" style="transform:translate(579.03px,491.10px) rotate(0.03deg);font-size:5.531px;line-height:6px;color:#333;letter-spacing:0.000px;">10-2024</span><span class="t" style="transform:translate(611.98px,491.14px) rotate(0.03deg);font-size:5.645px;line-height:6px;color:#333;letter-spacing:0.000px;">11-2024</span><span class="t" style="transform:translate(644.93px,491.10px) rotate(0.03deg);font-size:5.531px;line-height:6px;color:#333;letter-spacing:0.000px;">12-2024</span><span class="t" style="transform:translate(677.88px,491.10px) rotate(0.03deg);font-size:5.531px;line-height:6px;color:#333;letter-spacing:0.000px;">01-2025</span><div class="r" style="left:419.20px;top:521.90px;width:307.30px;height:118.10px;background:#fff;border:0.8px solid #b5b5b5;box-shadow:0 0.5px 1.5px rgba(0,0,0,.25);"></div><div class="r" style="left:419.20px;top:521.90px;width:307.30px;height:12.60px;background:#a80070;box-shadow:0 1px 1px rgba(169,0,109,.35);"></div><span class="t" style="transform:translate(422.60px,525.17px) rotate(0.03deg);font-size:5.713px;line-height:6px;color:#fff;letter-spacing:0.000px;font-weight:700;">License Details</span><svg width="1005" height="621"><path d="M716.40 529.70 L718.50 527.50 L720.60 529.70" fill="none" stroke="#fff" stroke-width="0.95"/></svg><div class="r" style="left:489.40px;top:543.80px;width:7.50px;height:7.20px;background:#00aba9;"></div><span class="t" style="transform:translate(499.00px,544.28px) rotate(0.03deg);font-size:5.175px;line-height:6px;color:#111;letter-spacing:-0.032px;font-weight:700;">ATPL</span><div class="r" style="left:516.60px;top:543.80px;width:7.50px;height:7.20px;background:#2b90f9;"></div><span class="t" style="transform:translate(526.30px,544.34px) rotate(0.03deg);font-size:5.35px;line-height:6px;color:#111;letter-spacing:-0.000px;font-weight:700;">CPL</span><div class="r" style="left:541.10px;top:543.80px;width:7.50px;height:7.20px;background:#b100d8;"></div><span class="t" style="transform:translate(551.00px,544.29px) rotate(0.03deg);font-size:5.211px;line-height:6px;color:#111;letter-spacing:-0.000px;font-weight:700;">MPL</span><div class="r" style="left:565.70px;top:543.80px;width:7.50px;height:7.20px;background:#590099;"></div><span class="t" style="transform:translate(575.40px,544.40px) rotate(0.03deg);font-size:5.533px;line-height:6px;color:#111;letter-spacing:-0.000px;font-weight:700;">CRM</span><div class="r" style="left:591.30px;top:543.80px;width:7.50px;height:7.20px;background:#2a32c8;"></div><span class="t" style="transform:translate(601.00px,544.56px) rotate(0.03deg);font-size:5.999px;line-height:6px;color:#111;letter-spacing:-0.000px;font-weight:700;">SMS</span><div class="r" style="left:618.10px;top:543.80px;width:7.50px;height:7.20px;background:#00008c;"></div><span class="t" style="transform:translate(628.00px,544.31px) rotate(0.03deg);font-size:5.269px;line-height:6px;color:#111;letter-spacing:-0.000px;font-weight:700;">MEDICAL</span><span class="t" style="transform:translate(429.80px,555.25px) rotate(0.03deg);font-size:4.795px;line-height:5px;color:#333;letter-spacing:-0.000px;">400</span><svg width="1005" height="621"><path d="M439.3 557.6 L440.9 557.6 L440.9 562" fill="none" stroke="#444" stroke-width="0.5"/></svg><div class="r" style="left:101.20px;top:162.90px;width:1.10px;height:14.80px;background:#e3a6d3;border-radius:0.5px;"></div><div class="r" style="left:731.80px;top:162.90px;width:1.20px;height:14.80px;background:#e3a6d3;border-radius:0.5px;"></div><div class="r" style="left:728.40px;top:112.00px;width:2.20px;height:447.10px;background:#e4e4e4;"></div></div><svg width="1005" height="621" viewBox="0 0 1005 621">
<defs>
<linearGradient id="pside" gradientUnits="userSpaceOnUse" x1="725.5" y1="0" x2="947" y2="0">
<stop offset="0" stop-color="#c8c8c8"/><stop offset="0.003" stop-color="#fbfbfc"/><stop offset="0.0035" stop-color="#fdfdfd"/><stop offset="0.0048" stop-color="#c4c4c4"/><stop offset="0.0075" stop-color="#fdfdfd"/><stop offset="0.013" stop-color="#fafafa"/><stop offset="0.015" stop-color="#e6e6e6"/><stop offset="0.022" stop-color="#e6e6e6"/><stop offset="0.024" stop-color="#fbfbfb"/><stop offset="0.03" stop-color="#f6f6f6"/><stop offset="0.04" stop-color="#d2d2d4"/>
<stop offset="0.96" stop-color="#d2d2d4"/><stop offset="0.97" stop-color="#ededf0"/><stop offset="0.981" stop-color="#f4f4f6"/><stop offset="0.9845" stop-color="#f2f2f4"/><stop offset="0.988" stop-color="#f0f0f2"/><stop offset="0.996" stop-color="#f4f4f6"/><stop offset="1" stop-color="#8e8e8e"/></linearGradient>
<linearGradient id="pline" gradientUnits="userSpaceOnUse" x1="0" y1="153.9" x2="0" y2="605.3">
<stop offset="0" stop-color="#555" stop-opacity="0"/><stop offset="0.02" stop-color="#555" stop-opacity="0.15"/><stop offset="0.07" stop-color="#555" stop-opacity="0.9"/><stop offset="0.93" stop-color="#555" stop-opacity="0.9"/><stop offset="0.98" stop-color="#555" stop-opacity="0.15"/><stop offset="1" stop-color="#555" stop-opacity="0"/></linearGradient>
<clipPath id="pclipL"><path d="M734.5 0 L1005 0 L1005 621 L0 621 L0 559.2 L734.5 559.2 Z"/></clipPath>
<linearGradient id="pbandb" gradientUnits="userSpaceOnUse" x1="745" y1="0" x2="927" y2="0"><stop offset="0.02" stop-color="#555757" stop-opacity="0"/><stop offset="0.14" stop-color="#555757" stop-opacity="1"/><stop offset="0.86" stop-color="#555757" stop-opacity="1"/><stop offset="0.98" stop-color="#555757" stop-opacity="0"/></linearGradient>
<linearGradient id="pbandh" gradientUnits="userSpaceOnUse" x1="745" y1="0" x2="927" y2="0">
<stop offset="0.06" stop-color="#606262" stop-opacity="0"/><stop offset="0.32" stop-color="#606262" stop-opacity="1"/><stop offset="0.7" stop-color="#606262" stop-opacity="1"/><stop offset="0.94" stop-color="#606262" stop-opacity="0"/></linearGradient>
<linearGradient id="ptopv" gradientUnits="userSpaceOnUse" x1="0" y1="153.9" x2="0" y2="158">
<stop offset="0" stop-color="#b9b9b9"/><stop offset="0.15" stop-color="#cfcfcf"/><stop offset="0.45" stop-color="#d8d8da"/><stop offset="0.55" stop-color="#f4f4f8"/><stop offset="1" stop-color="#f4f4f8"/></linearGradient>
<linearGradient id="pbotv" gradientUnits="userSpaceOnUse" x1="0" y1="602" x2="0" y2="605.3">
<stop offset="0" stop-color="#f6f6f8"/><stop offset="0.7" stop-color="#f0f0f2"/><stop offset="1" stop-color="#bdbdbd"/></linearGradient>
</defs>
<rect x="725.5" y="153.9" width="221.6" height="451.4" rx="33" ry="33" fill="url(#pside)"/>
<path d="M758 153.9 L915 153.9 L915 158 L758 158 Z" fill="url(#ptopv)"/>
<path d="M758 601.8 L915 601.8 L915 605.3 L758 605.3 Z" fill="url(#pbotv)"/>
<rect x="943.6" y="0" width="0" height="0"/>
<g clip-path="url(#pclipL)"><rect x="729.2" y="157.3" width="214.4" height="444.6" rx="29.6" ry="29.6" fill="none" stroke="url(#pline)" stroke-width="0.8"/>
<rect x="725.9" y="154.3" width="220.8" height="450.6" rx="32.6" ry="32.6" fill="none" stroke="#a9a9a9" stroke-width="0.8"/></g>
<rect x="732.3" y="157.3" width="209" height="445.4" rx="27.4" ry="14.6" fill="#9a9a9a"/>
<rect x="732.8" y="157.5" width="207.3" height="445" rx="26.6" ry="14.2" fill="#444"/>
<rect x="733.3" y="157.7" width="205.4" height="444.6" rx="26" ry="13.8" fill="#111"/>
<rect x="745" y="158.9" width="182" height="5.2" fill="url(#pbandh)"/>
<rect x="745" y="596" width="182" height="5.3" fill="url(#pbandb)"/>
<g fill="none" stroke="#fff" stroke-linecap="round">
<path d="M736.2 172 C737.4 165 743 161 752 159.6" stroke-width="0.9" opacity="0.55"/>
<path d="M738.6 173 C739.6 167.6 744 164 751 162.6" stroke-width="0.7" opacity="0.3"/>
<path d="M936.4 172 C935.2 165 929.6 161 920.6 159.6" stroke-width="0.9" opacity="0.45"/>
<path d="M736.2 588 C737.4 595 743 599 752 600.4" stroke-width="0.9" opacity="0.55"/>
<path d="M936.4 588 C935.2 595 929.6 599 920.6 600.4" stroke-width="0.9" opacity="0.45"/>
</g>
<rect x="737" y="167.4" width="196.2" height="425" rx="15" ry="15" fill="#fff"/>
</svg>
<div class="r" style="left:731.80px;top:162.90px;width:1.20px;height:14.80px;background:#e3a6d3;border-radius:0.5px;"></div><div style="position:absolute;left:0;top:0;width:1005px;height:621px;clip-path:inset(167.4px 71.8px 27.8px 737px round 15px);"><div class="r" style="left:737.00px;top:167.20px;width:196.20px;height:429.00px;background:#fff;"></div><div class="r" style="left:737.00px;top:167.20px;width:196.20px;height:50.60px;background:#a80070;"></div><span class="t" style="transform:translate(749.00px,169.91px) rotate(0.03deg);font-size:6.725px;line-height:7px;color:#fff;letter-spacing:-0.000px;font-weight:700;">12:22</span><svg width="1005" height="621">
<g fill="none" stroke="#fff" stroke-width="0.9">
<path d="M769.6 172 L769.6 170.4 L771.2 170.4 M774.8 170.4 L776.4 170.4 L776.4 172 M776.4 175.2 L776.4 176.8 L774.8 176.8 M771.2 176.8 L769.6 176.8 L769.6 175.2"/>
<circle cx="773" cy="173.6" r="1.5" fill="#fff" stroke="none"/>
</g>
<path d="M781.5 170.2 C779.6 170.2 779.3 172 779.3 173.4 C779.3 174.8 778.6 175.3 778.4 175.8 L784.6 175.8 C784.4 175.3 783.7 174.8 783.7 173.4 C783.7 172 783.4 170.2 781.5 170.2 Z M780.6 176.3 A0.95 0.95 0 0 0 782.4 176.3 Z" fill="#fff"/>
<path d="M891.6 172.2 A6.5 6.5 0 0 1 900.4 172.2 L896 177 Z" fill="#fff" opacity="0.38"/>
<path d="M893.4 174 A4 4 0 0 1 898.6 174 L896 177 Z" fill="#fff" opacity="0.55"/>
<path d="M902.2 177 L907.2 171.4 L907.2 177 Z" fill="#fff" opacity="0.4"/>
<path d="M902.2 177 L905 173.8 L905 177 Z" fill="#fff" opacity="0.75"/>
<rect x="909.4" y="170.5" width="14" height="6.6" rx="3.3" fill="#fff"/>
</svg><span class="t" style="transform:translate(914.30px,170.81px) rotate(0.03deg);font-size:5.7px;line-height:6px;color:#a80070;letter-spacing:-0.150px;font-weight:700;">94</span><svg width="1005" height="621"><circle cx="912.2" cy="173.8" r="1.05" fill="#a80070"/></svg><div class="r" style="left:744.00px;top:203.15px;width:9.80px;height:1.45px;background:#fff;"></div><div class="r" style="left:744.00px;top:206.05px;width:9.80px;height:1.45px;background:#fff;"></div><div class="r" style="left:744.00px;top:208.95px;width:9.80px;height:1.45px;background:#fff;"></div><svg width="1005" height="621"><circle cx="922.4" cy="206.6" r="5.1" fill="#fff"/>
<circle cx="922.4" cy="205.1" r="1.75" fill="#a80070"/>
<path d="M918.9 209.6 C919.4 207.5 925.4 207.5 925.9 209.6 A4.2 4.2 0 0 1 918.9 209.6 Z" fill="#a80070"/></svg><div class="r" style="left:741.50px;top:222.90px;width:188.10px;height:38.60px;background:#fff;border:0.8px solid #e3e3e3;border-radius:3.5px;"></div><span class="t" style="transform:translate(753.60px,238.32px) rotate(0.03deg);font-size:7.916px;line-height:9px;color:#1976d2;letter-spacing:0.000px;-webkit-text-stroke:0.15px #1976d2;">Previous</span><div class="r" style="left:798.00px;top:237.60px;width:0.80px;height:9.60px;background:#dcdcdc;"></div><span class="t" style="transform:translate(814.00px,238.41px) rotate(0.03deg);font-size:8.179px;line-height:9px;color:#222;letter-spacing:0.000px;-webkit-text-stroke:0.3px #222;">December 2025</span><div class="r" style="left:887.00px;top:237.60px;width:0.80px;height:9.60px;background:#dcdcdc;"></div><span class="t" style="transform:translate(901.00px,238.36px) rotate(0.03deg);font-size:8.025px;line-height:9px;color:#1976d2;letter-spacing:-0.000px;-webkit-text-stroke:0.15px #1976d2;">Next</span><div class="r" style="left:745.00px;top:271.80px;width:179.80px;height:23.60px;background:#e8f5ef;border-radius:12px;"></div><div class="r" style="left:835.60px;top:273.50px;width:88.60px;height:20.70px;background:#a80070;border-radius:10.5px;"></div><span class="t" style="transform:translate(777.59px,279.28px) rotate(0.03deg);font-size:7.2px;line-height:9px;color:#444;">Pending</span><span class="t" style="transform:translate(861.30px,279.28px) rotate(0.03deg);font-size:7.2px;line-height:9px;color:#fff;font-weight:700;">Completed</span><div class="r" style="left:741.50px;top:300.90px;width:188.10px;height:128.60px;background:#fff;border:0.6px solid #ececec;border-radius:6px;box-shadow:0 1.4px 3px rgba(0,0,0,.2);"></div><span class="t" style="transform:translate(750.40px,310.93px) rotate(0.03deg);font-size:5.6px;line-height:6px;color:#1976d2;font-weight:700;font-style:italic;">#1</span><span class="t" style="transform:translate(842.80px,310.89px) rotate(0.03deg);font-size:5.503px;line-height:6px;color:#555;letter-spacing:-0.000px;font-style:italic;">December 26th 2025, 10:30 AM</span><span class="t" style="transform:translate(750.30px,324.26px) rotate(0.03deg);font-size:6.56px;line-height:7px;color:#111;letter-spacing:0.000px;font-weight:700;">Training:</span><span class="t" style="transform:translate(779.80px,325.46px) rotate(0.03deg);font-size:5.708px;line-height:6px;color:#666;letter-spacing:-0.000px;">test</span><span class="t" style="transform:translate(750.30px,336.92px) rotate(0.03deg);font-size:5.867px;line-height:6px;color:#111;letter-spacing:-0.000px;font-weight:700;">Trainee:</span><span class="t" style="transform:translate(774.20px,336.97px) rotate(0.03deg);font-size:5.737px;line-height:6px;color:#555;letter-spacing:0.000px;">Manish Agarwal</span><span class="t" style="transform:translate(750.30px,347.35px) rotate(0.03deg);font-size:5.807px;line-height:6px;color:#111;letter-spacing:-0.000px;font-weight:700;">Trainer:</span><span class="t" style="transform:translate(773.00px,347.44px) rotate(0.03deg);font-size:5.78px;line-height:6px;color:#555;letter-spacing:-0.000px;">Manish Agarwal</span><span class="t" style="transform:translate(750.30px,357.79px) rotate(0.03deg);font-size:5.774px;line-height:6px;color:#111;letter-spacing:0.000px;font-weight:700;">Sign off status: New</span><span class="t" style="transform:translate(750.30px,368.23px) rotate(0.03deg);font-size:5.746px;line-height:6px;color:#111;letter-spacing:-0.000px;font-weight:700;">Training Status: Open</span><span class="t" style="transform:translate(750.30px,378.61px) rotate(0.03deg);font-size:5.554px;line-height:6px;color:#111;letter-spacing:0.000px;font-weight:700;">Form type:</span><span class="t" style="transform:translate(780.60px,378.72px) rotate(0.03deg);font-size:5.578px;line-height:6px;color:#666;letter-spacing:-0.000px;">LINE</span><span class="t" style="transform:translate(750.30px,389.13px) rotate(0.03deg);font-size:5.748px;line-height:6px;color:#111;letter-spacing:-0.000px;font-weight:700;">Form ID:e37f0ca2-d10d-4579-b877-942ccb851ffd</span><div class="r" style="left:851.90px;top:405.50px;width:29.10px;height:15.60px;background:#1976d2;border-radius:4px;box-shadow:0 0.6px 1.2px rgba(0,0,0,.3);"></div><span class="t" style="transform:translate(860.06px,410.12px) rotate(0.03deg);font-size:5px;line-height:6px;color:#fff;font-weight:700;">Open</span><div class="r" style="left:886.60px;top:405.50px;width:34.10px;height:15.60px;background:#a80070;border-radius:4px;box-shadow:0 0.6px 1.2px rgba(0,0,0,.3);"></div><span class="t" style="transform:translate(895.18px,410.12px) rotate(0.03deg);font-size:5px;line-height:6px;color:#fff;font-weight:700;">Upload</span><div class="r" style="left:741.50px;top:438.90px;width:188.10px;height:128.60px;background:#fff;border:0.6px solid #ececec;border-radius:6px;box-shadow:0 1.4px 3px rgba(0,0,0,.2);"></div><span class="t" style="transform:translate(750.40px,448.93px) rotate(0.03deg);font-size:5.6px;line-height:6px;color:#1976d2;font-weight:700;font-style:italic;">#2</span><span class="t" style="transform:translate(842.80px,448.89px) rotate(0.03deg);font-size:5.503px;line-height:6px;color:#555;letter-spacing:-0.000px;font-style:italic;">December 26th 2025, 10:30 AM</span><span class="t" style="transform:translate(750.30px,462.26px) rotate(0.03deg);font-size:6.56px;line-height:7px;color:#111;letter-spacing:0.000px;font-weight:700;">Training:</span><span class="t" style="transform:translate(779.80px,463.46px) rotate(0.03deg);font-size:5.708px;line-height:6px;color:#666;letter-spacing:-0.000px;">test</span><span class="t" style="transform:translate(750.30px,474.92px) rotate(0.03deg);font-size:5.867px;line-height:6px;color:#111;letter-spacing:-0.000px;font-weight:700;">Trainee:</span><span class="t" style="transform:translate(774.20px,474.87px) rotate(0.03deg);font-size:5.444px;line-height:6px;color:#555;letter-spacing:0.000px;">Satnam Singh</span><span class="t" style="transform:translate(750.30px,485.35px) rotate(0.03deg);font-size:5.807px;line-height:6px;color:#111;letter-spacing:-0.000px;font-weight:700;">Trainer:</span><span class="t" style="transform:translate(773.00px,485.44px) rotate(0.03deg);font-size:5.78px;line-height:6px;color:#555;letter-spacing:-0.000px;">Manish Agarwal</span><span class="t" style="transform:translate(750.30px,495.79px) rotate(0.03deg);font-size:5.774px;line-height:6px;color:#111;letter-spacing:0.000px;font-weight:700;">Sign off status: New</span><span class="t" style="transform:translate(750.30px,506.23px) rotate(0.03deg);font-size:5.746px;line-height:6px;color:#111;letter-spacing:-0.000px;font-weight:700;">Training Status: Open</span><span class="t" style="transform:translate(750.30px,516.61px) rotate(0.03deg);font-size:5.554px;line-height:6px;color:#111;letter-spacing:0.000px;font-weight:700;">Form type:</span><span class="t" style="transform:translate(780.60px,516.72px) rotate(0.03deg);font-size:5.578px;line-height:6px;color:#666;letter-spacing:-0.000px;">LINE</span><span class="t" style="transform:translate(750.30px,527.16px) rotate(0.03deg);font-size:5.829px;line-height:6px;color:#111;letter-spacing:-0.000px;font-weight:700;">Form ID:10289b2f-74f0-4f88-9183-a698892bf081</span><div class="r" style="left:851.90px;top:543.50px;width:29.10px;height:15.60px;background:#1976d2;border-radius:4px;box-shadow:0 0.6px 1.2px rgba(0,0,0,.3);"></div><span class="t" style="transform:translate(860.06px,548.12px) rotate(0.03deg);font-size:5px;line-height:6px;color:#fff;font-weight:700;">Open</span><div class="r" style="left:886.60px;top:543.50px;width:34.10px;height:15.60px;background:#a80070;border-radius:4px;box-shadow:0 0.6px 1.2px rgba(0,0,0,.3);"></div><span class="t" style="transform:translate(895.18px,548.12px) rotate(0.03deg);font-size:5px;line-height:6px;color:#fff;font-weight:700;">Upload</span><div class="r" style="left:737.00px;top:569.70px;width:196.20px;height:26.50px;background:#2c2c2c;"></div><div class="r" style="left:741.50px;top:574.20px;width:188.10px;height:65.80px;background:#313131;border:0.7px solid #3a3a3a;border-radius:5.5px;"></div><span class="t" style="transform:translate(750.40px,585.72px) rotate(0.03deg);font-size:5.574px;line-height:6px;color:#1d3b73;letter-spacing:-0.000px;font-weight:700;font-style:italic;">#3</span><span class="t" style="transform:translate(842.80px,585.69px) rotate(0.03deg);font-size:5.503px;line-height:6px;color:#111;letter-spacing:-0.000px;font-style:italic;">December 27th 2025, 10:30 AM</span><svg width="1005" height="621"><g fill="none" stroke="#d8d8d8" stroke-width="1.1">
<path d="M776.3 578.6 L776.3 587.2 M779.2 578.6 L779.2 587.2 M782.1 578.6 L782.1 587.2"/>
<circle cx="834.6" cy="582.9" r="4.1"/>
<path d="M893.3 578.4 L888.2 582.9 L893.3 587.4"/></g></svg></div></body></html>
